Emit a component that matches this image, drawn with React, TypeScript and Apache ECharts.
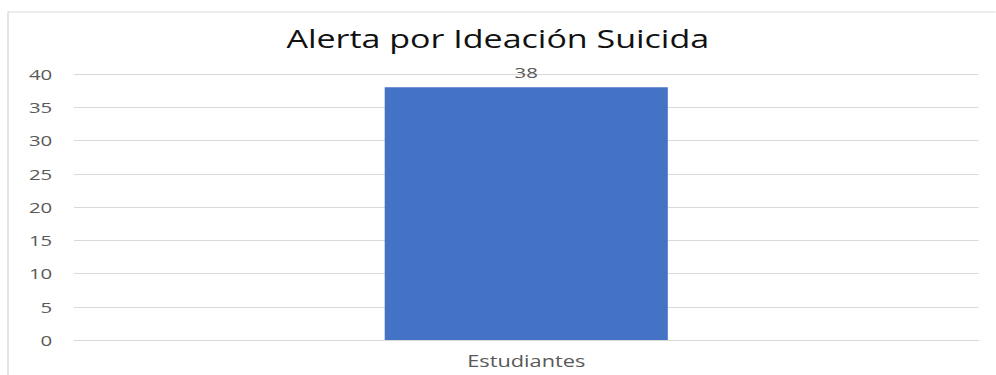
import React, { useEffect, useRef } from "react";
import * as echarts from "echarts";

const categories: string[] = ["Estudiantes"];
const values: number[] = [38];
const yTicks = { min: 0, max: 40, interval: 5 };
const titleText = "Alerta por Ideación Suicida";

const SX = 1.36;
const W = 996 / SX;
const H = 375;
const FONT = "'Open Sans', 'Noto Sans', sans-serif";

export default function App() {
  const ref = useRef<HTMLDivElement>(null);
  useEffect(() => {
    if (!ref.current) return;
    const chart = echarts.init(ref.current, undefined, { renderer: "svg" });
    chart.setOption({
      animation: false,
      backgroundColor: "#ffffff",
      title: {
        text: titleText,
        left: "center",
        top: 26,
        padding: 0,
        textStyle: { color: "#111111", fontSize: 25, fontWeight: "normal", fontFamily: FONT },
      },
      graphic: [
        {
          type: "rect",
          shape: { x: 8 / SX, y: 12, width: 2000, height: 1000 },
          style: { fill: "none", stroke: "#d9d9d9", lineWidth: 1 },
          silent: true,
          z: -1,
        },
      ],
      grid: { left: 74 / SX, right: W - 979 / SX, top: 74, bottom: 35 },
      xAxis: {
        type: "category",
        data: categories,
        axisLine: { show: true, lineStyle: { color: "#d9d9d9", width: 1 } },
        axisTick: { show: false },
        axisLabel: { color: "#595959", fontSize: 16, margin: 13, fontFamily: FONT },
      },
      yAxis: {
        type: "value",
        min: yTicks.min,
        max: yTicks.max,
        interval: yTicks.interval,
        axisLine: { show: false },
        axisTick: { show: false },
        splitLine: { lineStyle: { color: "#d9d9d9", width: 1 } },
        axisLabel: { color: "#595959", fontSize: 15, margin: 16, fontFamily: FONT },
      },
      series: [
        {
          type: "bar",
          data: values,
          barWidth: "31.3%",
          itemStyle: { color: "#4472C4" },
          label: {
            show: true,
            position: "top",
            distance: 8,
            color: "#595959",
            fontSize: 15,
            fontFamily: FONT,
          },
        },
      ],
    });
    return () => chart.dispose();
  }, []);
  return (
    <div
      ref={ref}
      style={{
        position: "absolute",
        left: 0,
        top: 0,
        width: W,
        height: H,
        transform: `scaleX(${SX})`,
        transformOrigin: "0 0",
      }}
    />
  );
}
